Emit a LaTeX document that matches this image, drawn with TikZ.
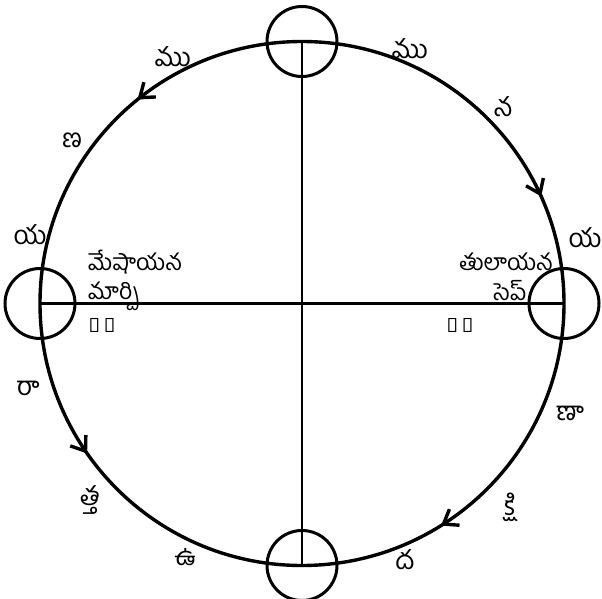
\documentclass[tikz,border=0pt]{standalone}
\usepackage{fontspec}
\newfontfamily\telfont[Script=Telugu]{Hind Guntur}
\usepackage{tikz}
\usetikzlibrary{arrows.meta, decorations.markings, positioning}
\tikzstyle{orbit} = [line width=3.4pt,
postaction={decorate},
decoration={markings,
mark=at position 0.067 with {\arrowreversed{Straight Barb[length=13pt,width=19pt]}},
mark=at position 0.358 with {\arrow{Straight Barb[length=13pt,width=19pt]}},
mark=at position 0.597 with {\arrow{Straight Barb[length=13pt,width=19pt]}},
mark=at position 0.839 with {\arrowreversed{Straight Barb[length=13pt,width=19pt]}}}]
\tikzstyle{axis} = [line width=2.6pt]
\tikzstyle{station} = [circle, draw=black, line width=3pt, minimum size=70pt, inner sep=0pt]
\tikzstyle{month} = [font=\telfont\fontsize{26}{26}\selectfont, inner sep=0pt]
\tikzstyle{note} = [font=\telfont\fontsize{23}{23}\selectfont, inner sep=0pt]
\tikzstyle{digits} = [font=\telfont\fontsize{20}{20}\selectfont, inner sep=0pt]

\begin{document}
\begin{tikzpicture}[x=1pt, y=1pt]
                \useasboundingbox (0,0) rectangle (602,598);
                \coordinate (sun) at (302,294.5);
                \draw [orbit] (sun) circle [radius=262pt];

                \node (solN) [station] at (302,556.5) {};
                \node (solS) [station] at (302,32.5) {};
                \node (eqW) [station] at (40,294.5) {};
                \node (eqE) [station] at (564,294.5) {};
                \draw [axis] (solN.center) -- (solS.center);
                \draw [axis] (eqW.center) -- (eqE.center);

                % uttarayanamu (left half)
                \node (u) [month] at (185,41) {ఉ};
                \node (tta) [month] at (90,98) {త్త};
                \node (raa) [month] at (28,210) {రా};
                \node (yaW) [month] at (30,363) {య};
                \node (naW) [month] at (72,458) {ణ};
                \node (muW) [month] at (173,541) {ము};
                % dakshinayanamu (right half)
                \node (da) [month] at (405,38) {ద};
                \node (kshi) [month] at (510,91) {క్షి};
                \node (naa) [month] at (570,185) {ణా};
                \node (yaE) [month] at (585,360) {య};
                \node (naE) [month] at (503,491) {న};
                \node (muE) [month] at (410,549) {ము};

                \node (mesha) [note, anchor=base west] at (88,327) {మేషాయన};
                \node (march) [note, anchor=base west] at (88,299) {మార్చి};
                \node (d21) [digits] at (102,273) {౨౧};
                \node (tula) [note, anchor=base east] at (553,327) {తులాయన};
                \node (sept) [note] at (510,307) {సెప్};
                \node (d23) [digits] at (460,273) {౨౩};
            \end{tikzpicture}
\end{document}
